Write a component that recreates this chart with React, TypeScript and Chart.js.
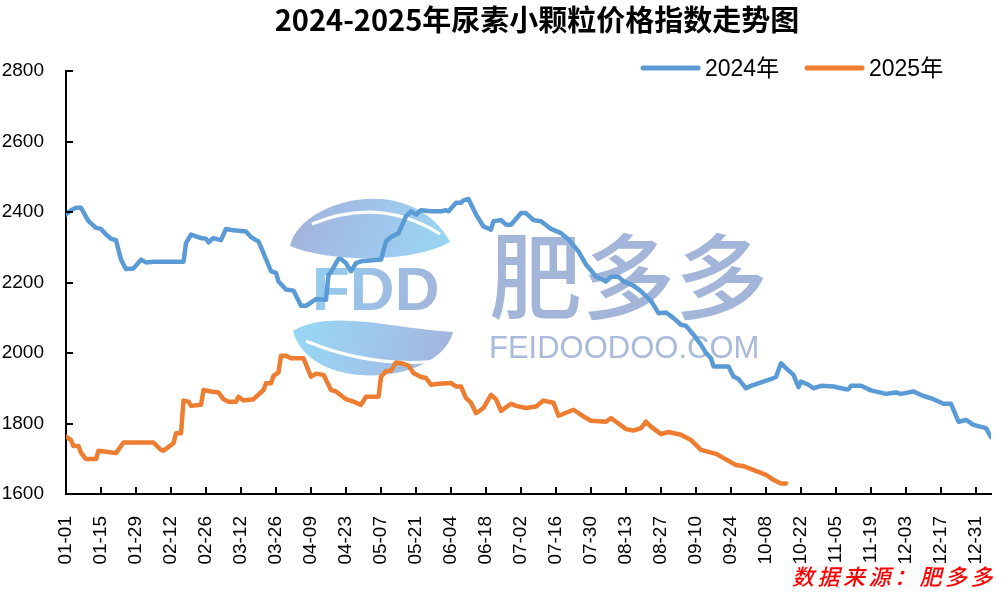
import React, { useEffect, useRef } from "react";
import { Chart, registerables } from "chart.js";

Chart.register(...registerables);

const TITLE = "2024-2025年尿素小颗粒价格指数走势图";
const SOURCE_TEXT = "数据来源：肥多多";
const SERIES_NAMES = ["2024年", "2025年"];
const SERIES_COLORS = ["#5B9BD5", "#ED7D31"];

const X_TICK_LABELS = [
  "01-01", "01-15", "01-29", "02-12", "02-26", "03-12", "03-26", "04-09", "04-23",
  "05-07", "05-21", "06-04", "06-18", "07-02", "07-16", "07-30", "08-13", "08-27",
  "09-10", "09-24", "10-08", "10-22", "11-05", "11-19", "12-03", "12-17", "12-31",
];
const TICK_STEP_DAYS = 14;
const X_MAX_DAY = 370;
const Y_MIN = 1600;
const Y_MAX = 2800;
const Y_STEP = 200;

// 2024 series: day offset from 01-01, index value
const DAYS_2024 = [
  0, 2, 4, 6, 9, 12, 14, 16, 18, 20, 22, 24, 27, 30, 32, 35, 47, 48, 50, 54, 56, 57, 59, 62,
  64, 67, 72, 74, 76, 77, 82, 84, 85, 88, 91, 94, 96, 100, 104, 105, 106, 109, 110, 112, 114,
  116, 118, 126, 128, 130, 133, 136, 138, 140, 142, 146, 150, 152, 153, 156, 158, 159, 161,
  164, 167, 170, 171, 174, 176, 178, 182, 184, 187, 190, 194, 198, 201, 205, 208, 212, 216,
  218, 221, 223, 227, 230, 234, 237, 240, 243, 246, 248, 251, 254, 256, 258, 259, 265, 267,
  269, 272, 274, 283, 284, 286, 288, 291, 293, 294, 297, 299, 302, 307, 312, 313, 314, 318,
  322, 328, 332, 334, 339, 343, 347, 351, 354, 357, 360, 363, 368, 370,
];
const VALUES_2024 = [
  2393, 2405, 2412, 2412, 2374, 2355, 2352, 2336, 2324, 2320, 2265, 2238, 2240, 2265, 2257,
  2259, 2259, 2312, 2336, 2326, 2324, 2314, 2326, 2320, 2352, 2348, 2345, 2329, 2320, 2317,
  2232, 2227, 2203, 2180, 2177, 2134, 2134, 2153, 2151, 2222, 2230, 2267, 2267, 2255, 2232,
  2255, 2260, 2265, 2317, 2329, 2340, 2388, 2402, 2393, 2405, 2402, 2402, 2405, 2402, 2426,
  2426, 2433, 2437, 2393, 2359, 2350, 2374, 2377, 2364, 2364, 2397, 2397, 2377, 2374, 2352,
  2340, 2322, 2288, 2251, 2217, 2203, 2216, 2216, 2203, 2191, 2175, 2148, 2113, 2115, 2099,
  2080, 2077, 2052, 2023, 2000, 1985, 1962, 1962, 1933, 1926, 1900, 1907, 1929, 1932, 1971,
  1957, 1938, 1903, 1919, 1910, 1900, 1907, 1905, 1897, 1897, 1907, 1907, 1894, 1884, 1888,
  1884, 1891, 1878, 1869, 1856, 1856, 1805, 1810, 1796, 1787, 1761,
];

// 2025 series: day offset from 01-01, index value
const DAYS_2025 = [
  0, 2, 3, 5, 6, 8, 12, 13, 16, 20, 23, 35, 38, 39, 43, 44, 46, 47, 49, 50, 54, 55, 58, 61,
  63, 65, 68, 69, 71, 75, 79, 80, 82, 83, 85, 86, 88, 90, 95, 98, 100, 103, 106, 108, 112,
  115, 118, 120, 125, 126, 128, 130, 132, 134, 137, 139, 142, 144, 146, 149, 154, 156, 158,
  160, 162, 164, 167, 170, 172, 174, 178, 180, 184, 188, 191, 195, 197, 203, 207, 210, 216,
  218, 220, 224, 227, 230, 232, 234, 238, 241, 246, 250, 254, 260, 268, 271, 280, 283, 286,
  288,
];
const VALUES_2025 = [
  1763, 1753, 1736, 1736, 1717, 1699, 1699, 1723, 1720, 1716, 1746, 1746, 1725, 1723, 1744,
  1772, 1772, 1865, 1862, 1850, 1853, 1895, 1891, 1888, 1869, 1862, 1862, 1876, 1865, 1869,
  1895, 1914, 1914, 1935, 1945, 1992, 1992, 1985, 1985, 1933, 1941, 1938, 1895, 1891, 1869,
  1862, 1853, 1876, 1876, 1933, 1948, 1950, 1973, 1971, 1964, 1943, 1932, 1929, 1910, 1913,
  1915, 1905, 1905, 1872, 1859, 1829, 1844, 1881, 1869, 1836, 1856, 1850, 1844, 1848, 1865,
  1859, 1822, 1839, 1820, 1808, 1805, 1815, 1805, 1784, 1780, 1787, 1805, 1791, 1770, 1776,
  1768, 1753, 1725, 1714, 1682, 1679, 1654, 1640, 1630, 1630,
];

const AXIS_FONT = '"Liberation Sans", Arial, sans-serif';
const CJK_FONT = '"Noto Sans CJK SC", "Noto Sans", sans-serif';
const MIXED_FONT = '"Liberation Sans", "Noto Sans CJK SC", sans-serif';

function drawWatermark(ctx: CanvasRenderingContext2D) {
  ctx.save();
  // top leaf
  let g = ctx.createLinearGradient(295, 195, 450, 260);
  g.addColorStop(0, "#a3b1da");
  g.addColorStop(0.55, "#9fc6ec");
  g.addColorStop(1, "#97d8f4");
  ctx.fillStyle = g;
  ctx.beginPath();
  ctx.moveTo(290, 246);
  ctx.bezierCurveTo(300, 200, 410, 170, 450, 242);
  ctx.bezierCurveTo(415, 262, 335, 264, 290, 246);
  ctx.fill();
  ctx.strokeStyle = "#ffffff";
  ctx.lineWidth = 3;
  ctx.beginPath();
  ctx.moveTo(312, 224);
  ctx.quadraticCurveTo(380, 196, 440, 234);
  ctx.stroke();
  // bottom leaf
  g = ctx.createLinearGradient(295, 320, 455, 378);
  g.addColorStop(0, "#97d8f4");
  g.addColorStop(0.5, "#9fc6ec");
  g.addColorStop(1, "#a3b1da");
  ctx.fillStyle = g;
  ctx.beginPath();
  ctx.moveTo(293, 331);
  ctx.bezierCurveTo(330, 308, 400, 330, 453, 332);
  ctx.bezierCurveTo(440, 385, 310, 395, 293, 331);
  ctx.fill();
  ctx.beginPath();
  ctx.moveTo(306, 341);
  ctx.quadraticCurveTo(370, 368, 440, 361);
  ctx.stroke();
  // FDD
  g = ctx.createLinearGradient(313, 263, 435, 310);
  g.addColorStop(0, "#93cdee");
  g.addColorStop(1, "#a3b4da");
  ctx.fillStyle = g;
  ctx.font = `bold 62px ${AXIS_FONT}`;
  ctx.textBaseline = "alphabetic";
  ctx.textAlign = "left";
  ctx.fillText("FDD", 312, 310);
  // brand
  ctx.fillStyle = "#a3b5d9";
  ctx.font = `500 93px ${CJK_FONT}`;
  ctx.fillText("肥多多", 489, 312);
  ctx.fillStyle = "#aabadb";
  ctx.font = `31px ${AXIS_FONT}`;
  ctx.fillText("FEIDOODOO.COM", 489, 358);
  ctx.restore();
}

const decorPlugin = {
  id: "decor",
  beforeDatasetsDraw(chart: any) {
    drawWatermark(chart.ctx);
  },
  afterDraw(chart: any) {
    const ctx: CanvasRenderingContext2D = chart.ctx;
    const { left, bottom } = chart.chartArea;
    const xs = chart.scales.x;
    const ys = chart.scales.y;
    ctx.save();
    // inward tick marks
    ctx.strokeStyle = "#000";
    ctx.lineWidth = 2;
    ctx.beginPath();
    ys.ticks.forEach((t: any) => {
      const y = Math.round(ys.getPixelForValue(t.value));
      ctx.moveTo(left, y);
      ctx.lineTo(left + 7, y);
    });
    xs.ticks.forEach((t: any) => {
      if (t.value === 0) return;
      const x = Math.round(xs.getPixelForValue(t.value));
      ctx.moveTo(x, bottom);
      ctx.lineTo(x, bottom - 7);
    });
    ctx.stroke();

    // title
    ctx.fillStyle = "#000";
    ctx.font = `bold 29px ${CJK_FONT}`;
    ctx.textAlign = "center";
    ctx.textBaseline = "alphabetic";
    ctx.fillText(TITLE, 537, 31);

    // legend
    const legendX = [643, 807];
    ctx.lineCap = "round";
    ctx.lineWidth = 5;
    ctx.textAlign = "left";
    ctx.font = `23px ${MIXED_FONT}`;
    SERIES_NAMES.forEach((name, i) => {
      ctx.strokeStyle = SERIES_COLORS[i];
      ctx.beginPath();
      ctx.moveTo(legendX[i], 68);
      ctx.lineTo(legendX[i] + 55, 68);
      ctx.stroke();
      ctx.fillStyle = "#000";
      ctx.fillText(name, legendX[i] + 62, 76);
    });

    // source
    ctx.fillStyle = "#ff0000";
    ctx.font = `italic 500 22px ${CJK_FONT}`;
    const chars = Array.from(SOURCE_TEXT);
    chars.forEach((ch, i) => {
      ctx.fillText(ch, 792 + i * 25.5, 585);
    });
    ctx.restore();
  },
};

export default function App() {
  const canvasRef = useRef<HTMLCanvasElement | null>(null);

  useEffect(() => {
    document.body.style.margin = "0";
    const canvas = canvasRef.current;
    if (!canvas) return;
    const chart = new Chart(canvas, {
      type: "line",
      data: {
        datasets: [
          {
            label: SERIES_NAMES[0],
            data: DAYS_2024.map((d, i) => ({ x: d, y: VALUES_2024[i] })),
            borderColor: SERIES_COLORS[0],
            backgroundColor: SERIES_COLORS[0],
            borderWidth: 4.5,
            pointRadius: 0,
            tension: 0,
            borderJoinStyle: "round",
            borderCapStyle: "round",
          },
          {
            label: SERIES_NAMES[1],
            data: DAYS_2025.map((d, i) => ({ x: d, y: VALUES_2025[i] })),
            borderColor: SERIES_COLORS[1],
            backgroundColor: SERIES_COLORS[1],
            borderWidth: 4.5,
            pointRadius: 0,
            tension: 0,
            borderJoinStyle: "round",
            borderCapStyle: "round",
          },
        ],
      },
      options: {
        animation: false,
        responsive: true,
        maintainAspectRatio: false,
        layout: { padding: { top: 71, right: 10, left: 0, bottom: 0 } },
        plugins: {
          legend: { display: false },
          title: { display: false },
          tooltip: { enabled: false },
        },
        scales: {
          x: {
            type: "linear",
            min: 0,
            max: X_MAX_DAY,
            afterBuildTicks: (scale: any) => {
              scale.ticks = X_TICK_LABELS.map((_, i) => ({ value: i * TICK_STEP_DAYS }));
            },
            afterFit: (scale: any) => {
              scale.height = 101;
              scale.paddingLeft = 0;
              scale.paddingRight = 0;
            },
            ticks: {
              autoSkip: false,
              maxRotation: 90,
              minRotation: 90,
              padding: 14,
              color: "#000",
              font: { family: AXIS_FONT, size: 19 },
              callback: (_v: any, index: number) => X_TICK_LABELS[index],
            },
            grid: { display: false },
            border: { display: true, color: "#000", width: 2 },
          },
          y: {
            min: Y_MIN,
            max: Y_MAX,
            afterFit: (scale: any) => {
              scale.width = 66;
              scale.paddingTop = 0;
              scale.paddingBottom = 0;
            },
            ticks: {
              stepSize: Y_STEP,
              padding: 14,
              color: "#000",
              font: { family: AXIS_FONT, size: 19 },
              callback: (v: any) => String(v),
            },
            grid: { display: false },
            border: { display: true, color: "#000", width: 2 },
          },
        },
      },
      plugins: [decorPlugin],
    });
    return () => chart.destroy();
  }, []);

  return (
    <div style={{ position: "fixed", left: 0, top: 0, width: 1001, height: 595, background: "#fff" }}>
      <canvas ref={canvasRef} />
    </div>
  );
}
